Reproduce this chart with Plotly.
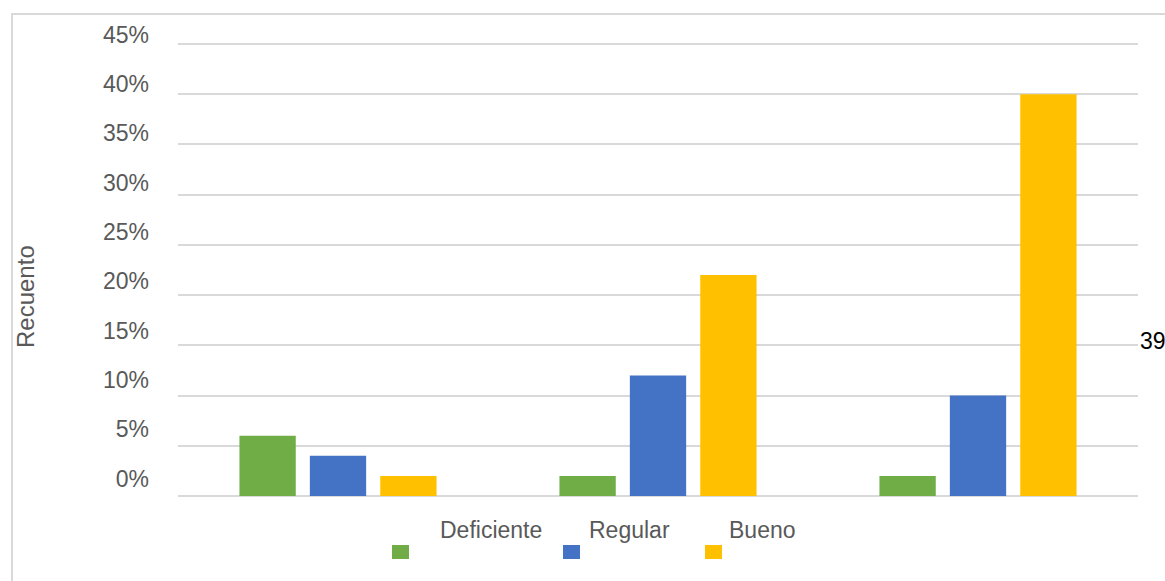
import plotly.graph_objects as go

# Survey results by group (share of respondents)
groups = ["Grupo 1", "Grupo 2", "Grupo 3"]
deficiente = [0.06, 0.02, 0.02]
regular = [0.04, 0.12, 0.10]
bueno = [0.02, 0.22, 0.40]

series_names = ["Deficiente", "Regular", "Bueno"]
series_colors = ["#70AD47", "#4472C4", "#FFC000"]
y_ticks = [0, 0.05, 0.10, 0.15, 0.20, 0.25, 0.30, 0.35, 0.40, 0.45]

W, H = 1165, 581
L, R, T, B = 178, 27, 30, 85
PW = W - L - R
PH = H - T - B
BAR_SCALE = 452 / 0.45  # pixels per unit on the bar scale
BAR_TOP = 0.4515        # a little headroom so the 45 % gridline is kept
LABEL_STEP_PX = 49.3    # pixel spacing of the percentage labels
LABEL_ZERO_PX = 17.5    # labels sit this far above their gridlines at 0 %
TXT = "#595959"
FONT = "Arial, Liberation Sans, sans-serif"


def px_x(px):
    return (px - L) / PW


def px_y(py):
    return (H - B - py) / PH


# Label axis scale: pixels per unit and its range over the full plot height
lab_scale = LABEL_STEP_PX / 0.05
lab_lo = -LABEL_ZERO_PX / lab_scale
lab_hi = lab_lo + PH / lab_scale

fig = go.Figure()
for name, vals, col in zip(series_names, [deficiente, regular, bueno], series_colors):
    fig.add_trace(go.Bar(x=groups, y=vals, name=name, marker_color=col,
                         marker_line_width=0, showlegend=False))
# Carrier for the label axis
fig.add_trace(go.Scatter(x=[None], y=[None], yaxis="y2", mode="lines",
                         showlegend=False, hoverinfo="skip"))

fig.update_layout(
    width=W, height=H,
    margin=dict(l=L, r=R, t=T, b=B),
    paper_bgcolor="white", plot_bgcolor="rgba(0,0,0,0)",
    barmode="group", bargap=0.34, bargroupgap=0.2,
    font=dict(family=FONT, color=TXT, size=23),
    xaxis=dict(showticklabels=False, showgrid=False, zeroline=False,
               showline=False, ticks=""),
    yaxis=dict(range=[0, BAR_TOP], domain=[0, BAR_TOP * BAR_SCALE / PH],
               tickvals=y_ticks, showticklabels=False,
               showgrid=True, gridcolor="#D9D9D9", gridwidth=2,
               zeroline=True, zerolinecolor="#D9D9D9", zerolinewidth=2,
               showline=False, ticks=""),
    yaxis2=dict(range=[lab_lo, lab_hi], domain=[0, 1], anchor="x", side="left",
                tickvals=y_ticks, tickformat=".0%", showgrid=False,
                zeroline=False, showline=False, ticks="", ticklabelstandoff=28,
                tickfont=dict(size=23, color=TXT)),
)

# Outer chart border (runs off the right and bottom edges)
fig.add_shape(type="rect", xref="paper", yref="paper",
              x0=px_x(12), x1=px_x(1200), y0=px_y(14), y1=px_y(620),
              line=dict(color="#D9D9D9", width=2), fillcolor="rgba(0,0,0,0)",
              layer="below")

# Y-axis title
fig.add_annotation(text="Recuento", xref="paper", yref="paper",
                   x=px_x(26), y=px_y(297), textangle=-90, showarrow=False,
                   font=dict(size=24, color=TXT), xanchor="center", yanchor="middle")

# Legend: labels with swatches set below
label_x = [438, 587, 727]
swatch_x = [392, 563, 705]
for name, col, lx, sx in zip(series_names, series_colors, label_x, swatch_x):
    fig.add_annotation(text=name, xref="paper", yref="paper",
                       x=px_x(lx), y=px_y(530), showarrow=False,
                       xanchor="left", yanchor="middle",
                       font=dict(size=23, color=TXT))
    fig.add_shape(type="rect", xref="paper", yref="paper",
                  x0=px_x(sx), x1=px_x(sx + 17), y0=px_y(545), y1=px_y(559),
                  line_width=0, fillcolor=col)

# Value label at the right edge
fig.add_annotation(text="39", xref="paper", yref="paper",
                   x=px_x(1138), y=px_y(341), showarrow=False,
                   xanchor="left", yanchor="middle",
                   font=dict(size=23, color="black", family=FONT))

fig.write_html("out.html")
